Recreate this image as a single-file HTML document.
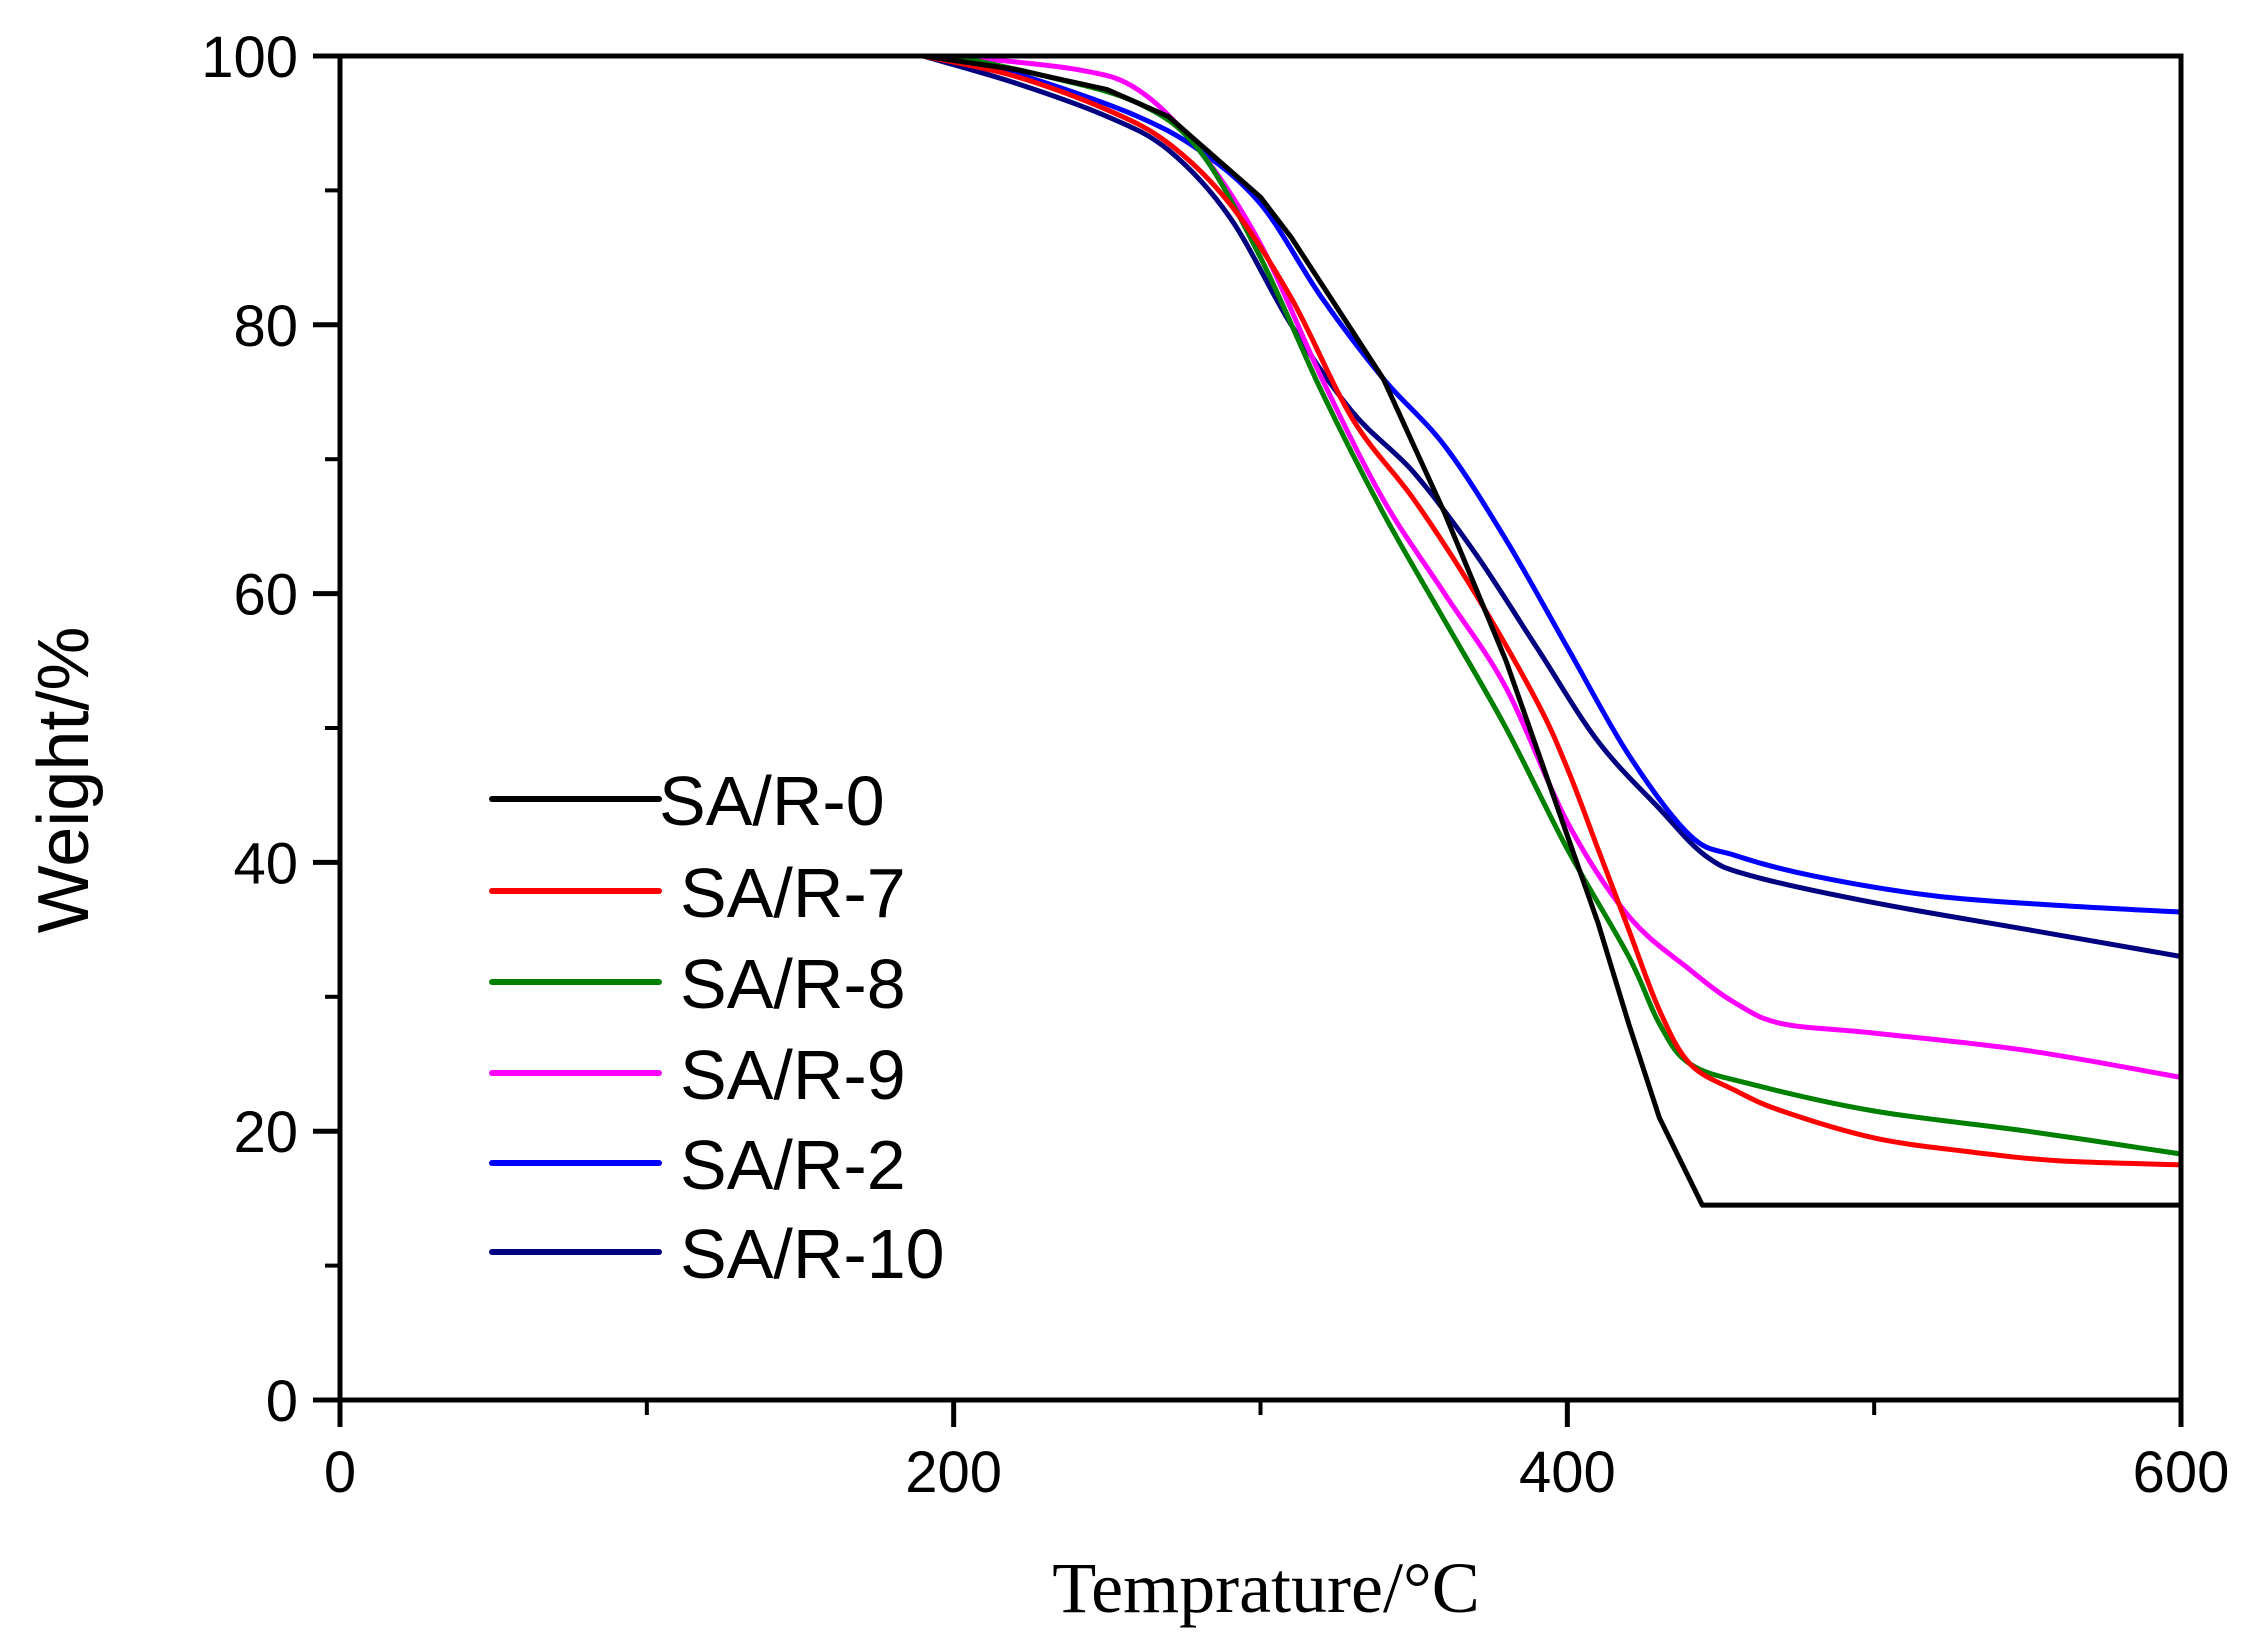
<!DOCTYPE html>
<html><head><meta charset="utf-8"><style>
html,body{margin:0;padding:0;background:#fff;}
svg{display:block;}
</style></head><body>
<svg id="chart" width="2244" height="1640" viewBox="0 0 2244 1640" xmlns="http://www.w3.org/2000/svg">
<g id="plot"></g>
<g id="axes"></g>
<g id="legend"></g>
<text x="1266" y="1612" text-anchor="middle" font-family="Liberation Serif, serif" font-size="72">Temprature/°C</text>
<text transform="translate(88,780) rotate(-90)" text-anchor="middle" font-family="Liberation Sans, sans-serif" font-size="72">Weight/%</text>
</svg>
<script>
const seriesNames = ["SA/R-0","SA/R-7","SA/R-8","SA/R-9","SA/R-2","SA/R-10"];
const seriesColors = ["#000000","#ff0000","#008000","#ff00ff","#0000ff","#000080"];
const tempR0 = [190,220,250,270,280,290,300,310,320,330,340,350,360,370,380,390,400,410,420,430,444,600];
const wR0 = [100,99,97.5,95.5,93.5,91.5,89.5,86.5,83,79.5,76,71,66,60.5,55,48.5,42,35.5,28,21,14.5,14.5];
const tempR7 = [190,220,250,270,290,310,330,350,370,390,400,410,420,430,440,455,470,500,530,560,600];
const wR7 = [100,98.5,96,93.5,89,82,73,67,60,52,47,41,35,29,25,23,21.5,19.5,18.5,17.8,17.5];
const tempR8 = [200,230,260,280,300,320,340,360,380,400,420,430,440,460,500,550,600];
const wR8 = [100,98.5,96.5,93,85,75,66,58,50,41,33,28,25,23.5,21.5,20,18.3];
const tempR9 = [200,240,260,280,300,320,340,360,380,400,420,440,455,470,500,550,600];
const wR9 = [100,99,97.5,93,86,76,67,60,53,43,36,32,29.5,28,27.3,26,24];
const tempR2 = [200,230,260,280,300,320,340,360,380,400,420,440,455,480,520,560,600];
const wR2 = [100,98,95.5,93,89,82,76,71,64,56,48,42,40.5,39,37.5,36.8,36.3];
const tempR10 = [190,220,250,270,290,310,330,350,370,390,410,430,445,460,500,550,600];
const wR10 = [100,98,95.5,93,88,80,73.5,69,63,56,49,44,40.5,39,37,35,33];
const xTicks = [0,200,400,600];
const xMinor = [100,300,500];
const yTicks = [0,20,40,60,80,100];
const yMinor = [10,30,50,70,90];

const NS="http://www.w3.org/2000/svg";
const X0=340,X1=2181,Y0=1400,Y1=56;
const sx=t=>X0+(t-0)/(600-0)*(X1-X0);
const sy=w=>Y0-(w-0)/(100-0)*(Y0-Y1);
function mk(tag,attrs,parent){const e=document.createElementNS(NS,tag);for(const k in attrs)e.setAttribute(k,attrs[k]);parent.appendChild(e);return e;}
function smoothPath(pts){
  let d='M'+pts[0][0].toFixed(1)+','+pts[0][1].toFixed(1);
  for(let i=0;i<pts.length-1;i++){
    const p0=pts[i-1]||pts[i],p1=pts[i],p2=pts[i+1],p3=pts[i+2]||p2;
    const c1=[p1[0]+(p2[0]-p0[0])/6,p1[1]+(p2[1]-p0[1])/6];
    const c2=[p2[0]-(p3[0]-p1[0])/6,p2[1]-(p3[1]-p1[1])/6];
    d+=' C'+c1.map(v=>v.toFixed(1))+' '+c2.map(v=>v.toFixed(1))+' '+p2[0].toFixed(1)+','+p2[1].toFixed(1);
  }
  return d;
}

const temps=[tempR0,tempR7,tempR8,tempR9,tempR2,tempR10];
const ws=[wR0,wR7,wR8,wR9,wR2,wR10];
const plot=document.getElementById('plot');
const order=[5,4,3,2,1,0];
order.forEach(i=>{
  const pts=temps[i].map((t,j)=>[sx(t),sy(ws[i][j])]);
  const d=i===0?pts.map((p,j)=>(j?'L':'M')+p[0].toFixed(1)+','+p[1].toFixed(1)).join(' '):smoothPath(pts);
  const p=mk('path',{d:d,fill:'none',stroke:seriesColors[i],'stroke-width':5,'stroke-linejoin':'round'},plot);
  
  
});

const axes=document.getElementById('axes');
const frame=mk('rect',{x:X0,y:Y1,width:X1-X0,height:Y0-Y1,fill:'none',stroke:'#000','stroke-width':5},axes);


xTicks.forEach(t=>{
  const l=mk('line',{x1:sx(t),x2:sx(t),y1:Y0,y2:Y0+27,stroke:'#000','stroke-width':5},axes);
  
  
  const tx=mk('text',{x:sx(t),y:Y0+92,'text-anchor':'middle','font-family':'Liberation Sans, sans-serif','font-size':58},axes);
  tx.textContent=t;
  
  
});
xMinor.forEach(t=>{
  const l=mk('line',{x1:sx(t),x2:sx(t),y1:Y0,y2:Y0+15,stroke:'#000','stroke-width':4},axes);
  
  
});
yTicks.forEach(w=>{
  const l=mk('line',{x1:X0-27,x2:X0,y1:sy(w),y2:sy(w),stroke:'#000','stroke-width':5},axes);
  
  
  const tx=mk('text',{x:X0-42,y:sy(w)+21,'text-anchor':'end','font-family':'Liberation Sans, sans-serif','font-size':58},axes);
  tx.textContent=w;
  
  
});
yMinor.forEach(w=>{
  const l=mk('line',{x1:X0-15,x2:X0,y1:sy(w),y2:sy(w),stroke:'#000','stroke-width':4},axes);
  
  
});

const legend=document.getElementById('legend');
const rowsY=[799,891,982,1073,1163,1252];
seriesNames.forEach((n,i)=>{
  const g=mk('g',{},legend);
  
  
  mk('line',{x1:492,x2:659,y1:rowsY[i],y2:rowsY[i],stroke:seriesColors[i],'stroke-width':6,'stroke-linecap':'round'},g);
  const tx=mk('text',{x:i===0?659:680,y:rowsY[i]+26,'font-family':'Liberation Sans, sans-serif','font-size':70},g);
  tx.textContent=n;
});
</script>
</body></html>
